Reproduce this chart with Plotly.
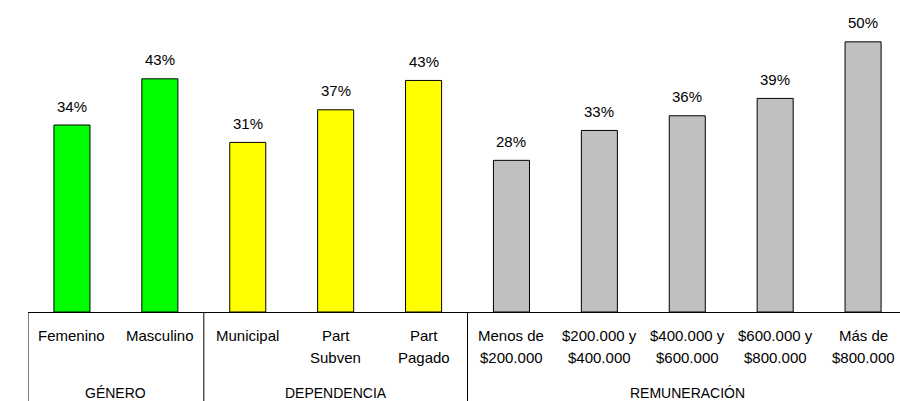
import plotly.graph_objects as go

# Data
categories = ["Femenino", "Masculino", "Municipal", "Part Subven", "Part Pagado",
              "Menos de $200.000", "$200.000 y $400.000", "$400.000 y $600.000",
              "$600.000 y $800.000", "Más de $800.000"]
label_line1 = ["Femenino", "Masculino", "Municipal", "Part", "Part",
               "Menos de", "$200.000 y", "$400.000 y", "$600.000 y", "Más de"]
label_line2 = ["", "", "", "Subven", "Pagado",
               "$200.000", "$400.000", "$600.000", "$800.000", "$800.000"]
values = [0.344, 0.429, 0.312, 0.372, 0.426, 0.279, 0.334, 0.361, 0.393, 0.497]
groups = ["GÉNERO", "DEPENDENCIA", "REMUNERACIÓN"]
group_sizes = [2, 3, 5]
group_colors = ["#00FF00", "#FFFF00", "#C0C0C0"]

colors = []
for c, n in zip(group_colors, group_sizes):
    colors += [c] * n

FONT = "Liberation Sans, Arial, sans-serif"

fig = go.Figure()
fig.add_trace(go.Bar(
    x=categories, y=values, width=0.41,
    marker=dict(color=colors, line=dict(color="#000000", width=1)),
    hoverinfo="skip",
))

annotations = []
for cat, v in zip(categories, values):
    annotations.append(dict(x=cat, y=v, xref="x", yref="y", text=f"{round(v*100)}%",
                            showarrow=False, yanchor="middle", yshift=19,
                            font=dict(family=FONT, size=15, color="#000000")))
for cat, l1, l2 in zip(categories, label_line1, label_line2):
    annotations.append(dict(x=cat, y=0, xref="x", yref="paper", text=l1, showarrow=False,
                            yanchor="middle", yshift=-23,
                            font=dict(family=FONT, size=15, color="#000000")))
    if l2:
        annotations.append(dict(x=cat, y=0, xref="x", yref="paper", text=l2, showarrow=False,
                                yanchor="middle", yshift=-45,
                                font=dict(family=FONT, size=15, color="#000000")))

shapes = []
start = -0.5
for g, n in zip(groups, group_sizes):
    center = start + n / 2
    annotations.append(dict(x=center, y=0, xref="x", yref="paper", text=g, showarrow=False,
                            yanchor="middle", yshift=-81,
                            font=dict(family=FONT, size=14, color="#000000")))
    shapes.append(dict(type="line", xref="x", yref="paper", x0=start, x1=start,
                       y0=0, y1=-0.3, line=dict(color="#000000", width=1)))
    start += n

fig.update_layout(
    width=900, height=401,
    margin=dict(l=28, r=0, t=0, b=89),
    paper_bgcolor="white", plot_bgcolor="white",
    showlegend=False,
    xaxis=dict(type="category", categoryorder="array", categoryarray=categories,
               range=[-0.5, 9.42], showticklabels=False, ticks="",
               showline=True, linecolor="#000000", linewidth=1, showgrid=False,
               zeroline=False),
    yaxis=dict(range=[0, 0.574], visible=False, showgrid=False, zeroline=False),
    annotations=annotations,
    shapes=shapes,
)

fig.write_html("out.html",
               config={"displayModeBar": False},
               post_script="document.body.style.margin='0';document.body.style.overflow='hidden';")
